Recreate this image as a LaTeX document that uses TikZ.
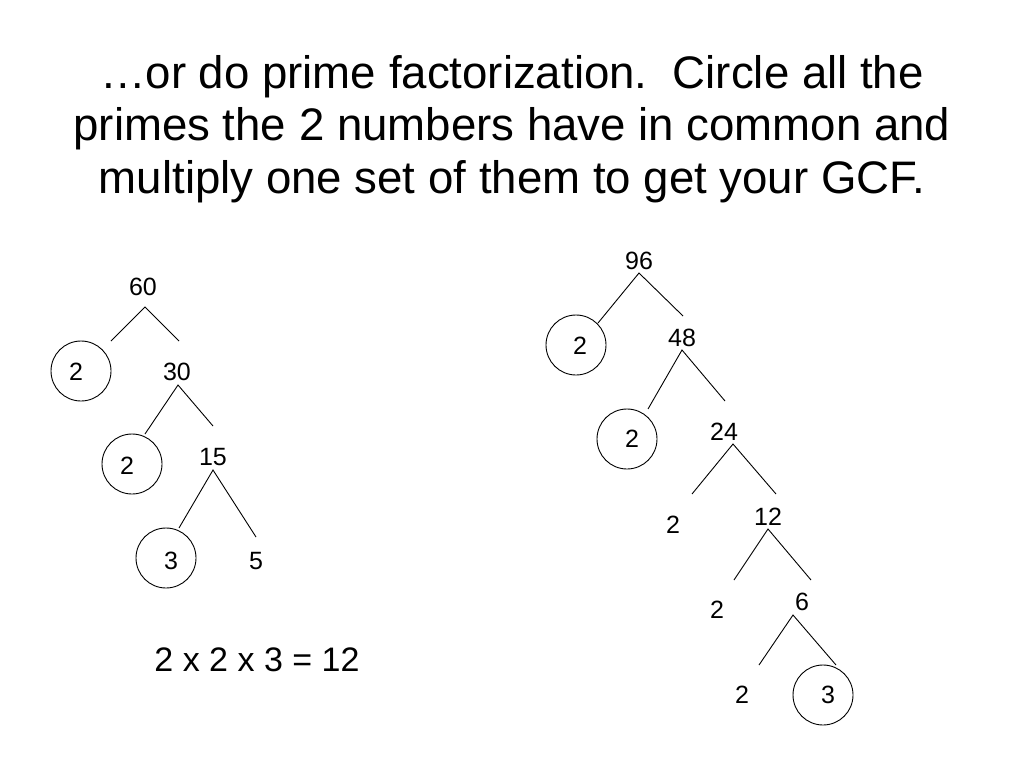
\documentclass[tikz,border=0pt]{standalone}
\usepackage{fontspec}
\setmainfont{Liberation Sans}
\begin{document}
\begin{tikzpicture}[x=1pt,y=-1pt,
  num/.style={inner sep=0pt, font=\fontsize{25}{30}\selectfont},
  ring/.style={draw, circle, minimum size=60pt, inner sep=0pt, line width=0.9pt},
  branch/.style={line width=0.9pt},
  titletext/.style={align=center, font=\fontsize{45.6}{52.5}\selectfont, inner sep=0pt},
  resulttext/.style={inner sep=0pt, font=\fontsize{34}{40}\selectfont}]
\useasboundingbox[fill=white] (0,0) rectangle (1024,768);

% title
\node[titletext] (title) at (512,129) {\char"2026 or do prime factorization.\ \ Circle all the\\primes the 2 numbers have in common and\\multiply one set of them to get your GCF.};

% ---- left tree: 60 ----
\node[num] (a60) at (143,287) {60};
\node[ring] (ra2) at (81,371) {};
\node[num] (a2) at (76,372) {2};
\node[num] (a30) at (177,372) {30};
\node[ring] (rb2) at (132,464) {};
\node[num] (b2) at (127,466) {2};
\node[num] (a15) at (213,457) {15};
\node[ring] (rc3) at (166,558) {};
\node[num] (c3) at (171,561) {3};
\node[num] (a5) at (256,561) {5};

\coordinate (p60) at (145,307);
\coordinate (p60l) at (111,341);
\coordinate (p60r) at (179,341);
\coordinate (p30) at (178,385);
\coordinate (p30l) at (145,434);
\coordinate (p30r) at (213,426);
\coordinate (p15) at (213,470);
\coordinate (p15l) at (179,528);
\coordinate (p15r) at (256,537);
\draw[branch] (p60l) -- (p60) -- (p60r);
\draw[branch] (p30l) -- (p30) -- (p30r);
\draw[branch] (p15l) -- (p15) -- (p15r);

\node[resulttext] (result) at (257,660) {2 x 2 x 3 = 12};

% ---- right tree: 96 ----
\node[num] (n96) at (639,261) {96};
\node[ring] (rd2) at (576,345) {};
\node[num] (d2) at (580,346) {2};
\node[num] (n48) at (682,338) {48};
\node[ring] (re2) at (627,439) {};
\node[num] (e2) at (632,439) {2};
\node[num] (n24) at (724,432) {24};
\node[num] (f2) at (673,525) {2};
\node[num] (n12) at (768,517) {12};
\node[num] (g2) at (717,610) {2};
\node[num] (n6) at (802,602) {6};
\node[num] (h2) at (742,695) {2};
\node[ring] (rh3) at (823,695) {};
\node[num] (h3) at (828,695) {3};

\coordinate (q96) at (639,273);
\coordinate (q96l) at (598,323);
\coordinate (q96r) at (683,316);
\coordinate (q48) at (682,350);
\coordinate (q48l) at (648,409);
\coordinate (q48r) at (725,401);
\coordinate (q24) at (733,444);
\coordinate (q24l) at (692,494);
\coordinate (q24r) at (776,494);
\coordinate (q12) at (768,529);
\coordinate (q12l) at (734,580);
\coordinate (q12r) at (811,580);
\coordinate (q6) at (793,615);
\coordinate (q6l) at (759,665);
\coordinate (q6r) at (836,665);
\draw[branch] (q96l) -- (q96) -- (q96r);
\draw[branch] (q48l) -- (q48) -- (q48r);
\draw[branch] (q24l) -- (q24) -- (q24r);
\draw[branch] (q12l) -- (q12) -- (q12r);
\draw[branch] (q6l) -- (q6) -- (q6r);
\end{tikzpicture}
\end{document}
